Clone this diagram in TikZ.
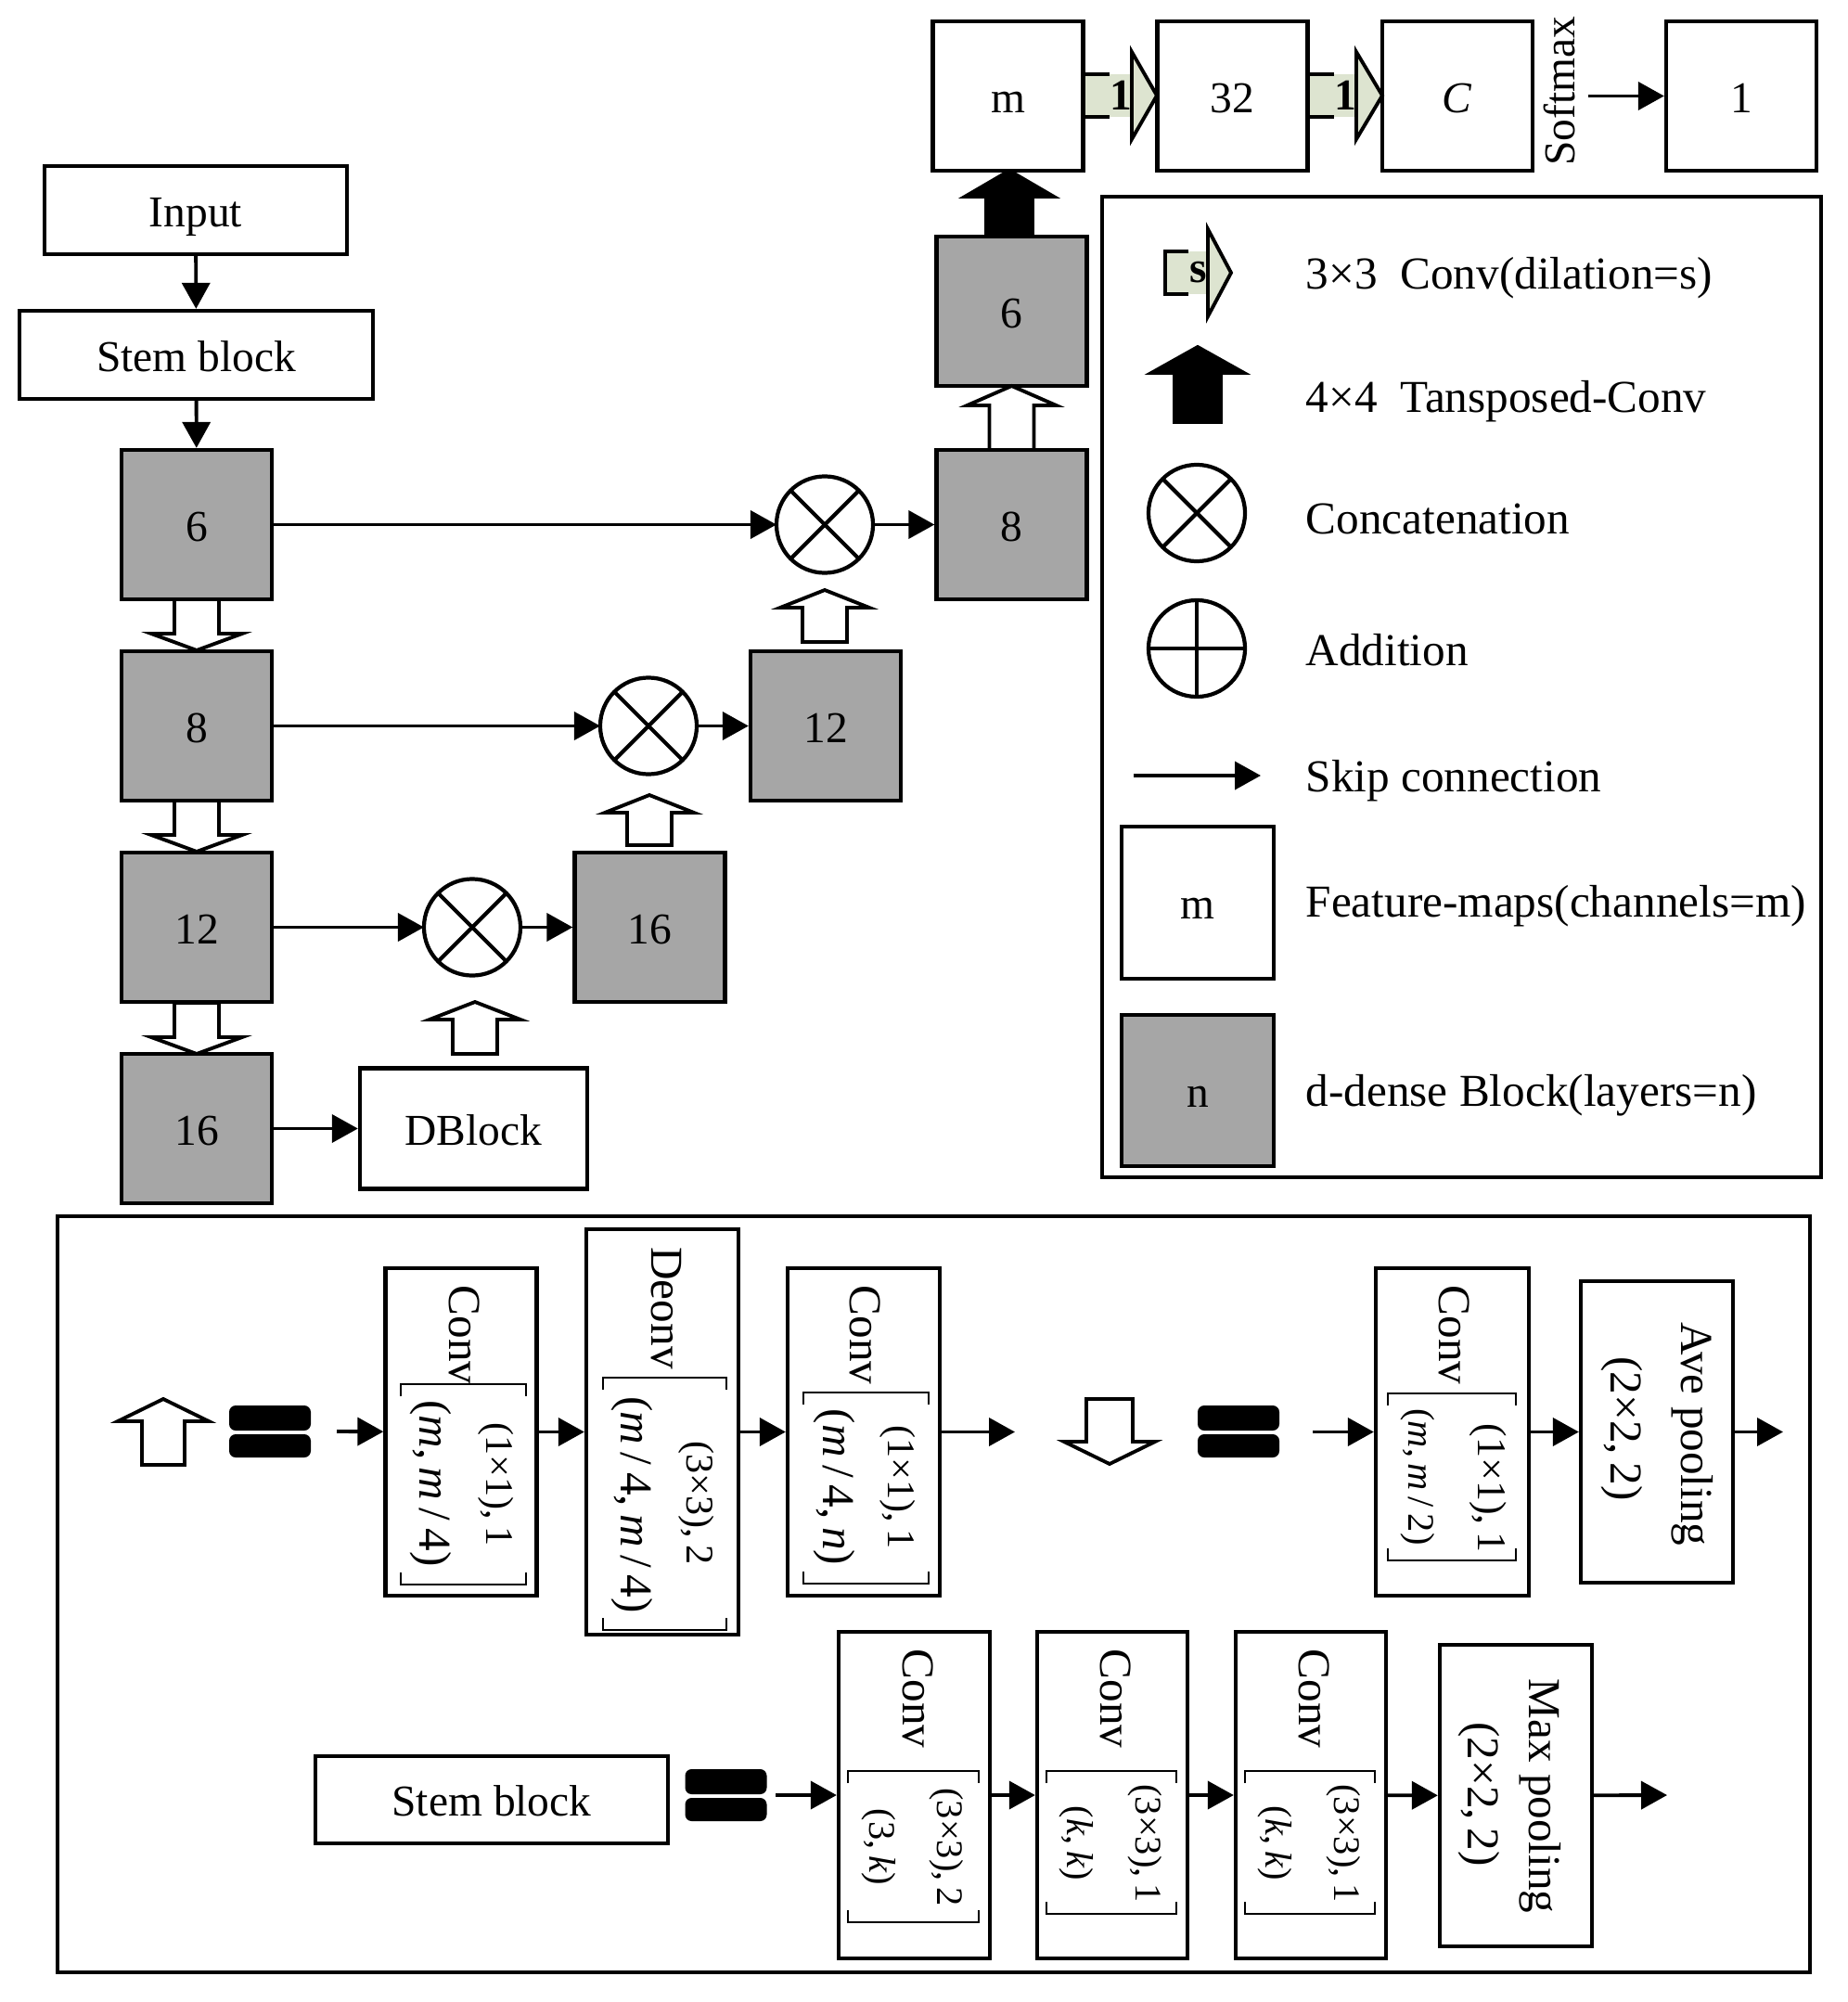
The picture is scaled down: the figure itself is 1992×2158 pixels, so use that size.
\documentclass[tikz,border=0pt]{standalone}
\usepackage{fontspec}
\setmainfont{Liberation Serif}
\usetikzlibrary{arrows.meta}
\definecolor{blk}{RGB}{166,166,166}
\definecolor{dil}{RGB}{221,228,208}
\newcommand\fMain{\fontsize{13.5pt}{16pt}\selectfont}
\newcommand\fLeg{\fontsize{14pt}{17pt}\selectfont}
\newcommand\fRowA{\fontsize{12pt}{14pt}\selectfont}
\newcommand\fRowB{\fontsize{14pt}{17pt}\selectfont}
\newcommand\fRowC{\fontsize{12.5pt}{15pt}\selectfont}
\newcommand\fRowS{\fontsize{11.5pt}{13pt}\selectfont}
% block arrow: cx, tip, base, end, headhalf, shafthalf, style
\newcommand\blockarr[7]{\draw[#7] (#1-#6,#4) -- (#1-#6,#3) -- (#1-#5,#3) -- (#1,#2) -- (#1+#5,#3) -- (#1+#6,#3) -- (#1+#6,#4) -- cycle;}
% dilated conv arrow: x1, x2, xhead, xtip, cy, label, name
\newcommand\dilarr[7]{%
  \fill[dil] (#1,#5-23) rectangle (#3,#5+23);
  \filldraw[fill=dil, line width=1.1pt, line join=miter] (#3,#5-47) -- (#4,#5) -- (#3,#5+47) -- cycle;
  \draw[line width=1.4pt] (#2,#5-23) -- (#1,#5-23) -- (#1,#5+23) -- (#2,#5+23);
  \node[font=\fMain\bfseries, inner sep=0pt] (#7) at ({(#2+#3)/2},#5) {#6};}
% bracket: xl, xr, ytop, ybottom
\newcommand\BrkV[4]{\draw[brk] (#1,#3+13) -- (#1,#3) -- (#2,#3) -- (#2,#3+13);
  \draw[brk] (#1,#4-13) -- (#1,#4) -- (#2,#4) -- (#2,#4-13);}
% equals sign: cx, cy
\newcommand\eqsign[2]{\fill[rounded corners=2pt] (#1-44,#2-28) rectangle (#1+44,#2-1);
  \fill[rounded corners=2pt] (#1-44,#2+3) rectangle (#1+44,#2+28);}
\tikzset{
  tbox/.style={draw, line width=1.2pt, fill=white, inner sep=0pt, font=\fMain, text height=10pt, text depth=0pt},
  fmbox/.style={tbox, minimum width=1.62cm, minimum height=1.61cm},
  dbox/.style={fmbox, fill=blk},
  arr/.style={line width=1.1pt, -{Triangle[length=0.28cm, width=0.3cm]}},
  hollow/.style={draw, fill=white, line width=1.1pt, line join=miter},
  blackarr/.style={draw, fill=black, line width=1.1pt, line join=miter},
  cat/.style={circle, draw, line width=1.2pt, minimum size=1.04cm, inner sep=0pt, outer sep=0pt},
  rt/.style={rotate=-90, inner sep=0pt},
  brk/.style={line width=0.7pt},
  frame/.style={line width=1.3pt},
  leg/.style={anchor=base west, inner sep=0pt, font=\fLeg},
  convbox/.style={draw, line width=1.2pt, fill=white, inner sep=0pt, minimum width=1.63cm, minimum height=3.53cm},
  poolbox/.style={convbox, minimum width=1.64cm, minimum height=3.25cm}
}
\begin{document}
\begin{tikzpicture}[x=0.01cm, y=-0.01cm]
\useasboundingbox (0,0) rectangle (1992,2158);

% ---------- left encoder ----------
\node[tbox, minimum width=3.26cm, minimum height=0.95cm] (inp) at (211,226.5) {Input};
\node[tbox, minimum width=3.81cm, minimum height=0.95cm] (stem) at (211.5,382.5) {Stem block};
\node[dbox] (L6) at (212,565.5) {6};
\node[dbox] (L8) at (212,782.5) {8};
\node[dbox] (L12) at (212,999.5) {12};
\node[dbox] (L16) at (212,1216.5) {16};
\node[tbox, minimum width=2.45cm, minimum height=1.30cm] (dblk) at (510.5,1216.5) {DBlock};

\draw[arr] (inp) -- (stem);
\draw[arr] (stem) -- (L6);
\blockarr{212}{701}{683}{646}{49}{24}{hollow}
\blockarr{212}{918}{900}{863}{49}{24}{hollow}
\blockarr{212}{1136}{1118}{1081}{49}{24}{hollow}
\draw[arr] (L16) -- (dblk);

% ---------- decoder ----------
\node[cat] (C1) at (509,999.5) {};
\node[cat] (C2) at (699,782.5) {};
\node[cat] (C3) at (889,565.5) {};
\foreach \c in {C1,C2,C3}{
  \draw[line width=1.2pt] (\c.45) -- (\c.225);
  \draw[line width=1.2pt] (\c.135) -- (\c.315);
}
\node[dbox] (R16) at (700.5,999.5) {16};
\node[dbox] (R12) at (890,782.5) {12};
\node[dbox] (R8) at (1090.5,565.5) {8};
\node[dbox] (R6) at (1090.5,335.5) {6};

\draw[arr] (L12) -- (C1);
\draw[arr] (C1) -- (R16);
\draw[arr] (L8) -- (C2);
\draw[arr] (C2) -- (R12);
\draw[arr] (L6) -- (C3);
\draw[arr] (C3) -- (R8);

\blockarr{512}{1080}{1099}{1136}{49}{24}{hollow}
\blockarr{700}{857}{876}{911}{48}{24}{hollow}
\blockarr{889}{636}{655}{692}{48}{24}{hollow}
\blockarr{1090.5}{416}{437}{485}{48}{24}{hollow}
\blockarr{1088}{184}{212}{255}{48}{25}{blackarr}

% ---------- top row ----------
\node[fmbox] (m) at (1086.5,103.5) {m};
\node[fmbox] (n32) at (1328.5,103.5) {32};
\node[fmbox] (C) at (1571,103.5) {\textit{C}};
\node[fmbox] (one) at (1877,103.5) {1};
\dilarr{1168}{1196}{1220}{1247}{103}{1}{d1}
\dilarr{1410}{1438}{1462}{1490}{103}{1}{d2}
\node[rotate=90, inner sep=0pt, font=\fMain] (sm) at (1681,98) {Softmax};
\coordinate (smx) at (1712,103.5);
\draw[arr] (smx) -- (one);

% ---------- legend ----------
\draw[frame] (1188,212) rectangle (1963,1269);
\dilarr{1256}{1281}{1302}{1327}{294}{s}{ld}
\node[leg] (t1) at (1407,312) {3×3\ \ Conv(dilation=s)};
\blockarr{1291}{374}{402}{455}{50}{25}{blackarr}
\node[leg] (t2) at (1407,445) {4×4\ \ Tansposed-Conv};
\node[cat] (LC) at (1290,553) {};
\draw[line width=1.2pt] (LC.45) -- (LC.225);
\draw[line width=1.2pt] (LC.135) -- (LC.315);
\node[leg] (t3) at (1407,575) {Concatenation};
\node[cat] (LA) at (1290,699) {};
\draw[line width=1.2pt] (LA.north) -- (LA.south);
\draw[line width=1.2pt] (LA.east) -- (LA.west);
\node[leg] (t4) at (1407,717) {Addition};
\coordinate (s1) at (1222,836);
\coordinate (s2) at (1359,836);
\draw[arr] (s1) -- (s2);
\node[leg] (t5) at (1407,853) {Skip connection};
\node[tbox, minimum width=1.64cm, minimum height=1.64cm] (lm) at (1291,973) {m};
\node[leg] (t6) at (1407,988) {Feature-maps(channels=m)};
\node[tbox, fill=blk, minimum width=1.64cm, minimum height=1.63cm] (ln) at (1291,1175.5) {n};
\node[leg] (t7) at (1407,1192) {d-dense Block(layers=n)};

% ---------- bottom panel ----------
\draw[frame] (62,1311) rectangle (1951,2126);

% row 1: up block
\blockarr{176}{1508}{1532}{1579}{49}{23}{hollow}
\eqsign{291}{1543}
\node[inner sep=0pt, minimum width=0.88cm, minimum height=0.56cm] (eqA) at (291,1543) {};
\node[convbox] (cv1) at (497,1543.5) {};
\node[convbox, minimum width=1.64cm, minimum height=4.37cm] (dcv) at (714,1543.5) {};
\node[convbox, minimum width=1.64cm] (cv2) at (931,1543.5) {};
\coordinate (e1) at (1094,1543.5);
\coordinate (a1) at (363,1543);
\draw[arr] (a1) -- (cv1);
\draw[arr] (cv1) -- (dcv);
\draw[arr] (dcv) -- (cv2);
\draw[arr] (cv2) -- (e1);

\node[rt, font=\fLeg] (cv1t) at (501,1439) {Conv};
\BrkV{432}{567}{1492}{1708}
\node[rt, font=\fRowA] (cv1a) at (535,1600) {(1×1),\,1};
\node[rt, font=\fRowB] (cv1b) at (464,1599) {(\textit{m},\,\textit{m}\,/\,4)};

\node[rt, font=\fLeg] (dcvt) at (718,1410) {Deonv};
\BrkV{650}{783}{1485}{1757}
\node[rt, font=\fRowA] (dcva) at (751,1620) {(3×3),\,2};
\node[rt, font=\fRowB] (dcvb) at (681,1622) {(\textit{m}\,/\,4,\,\textit{m}\,/\,4)};

\node[rt, font=\fLeg] (cv2t) at (933,1439) {Conv};
\BrkV{866}{1001}{1501}{1707}
\node[rt, font=\fRowA] (cv2a) at (968,1603) {(1×1),\,1};
\node[rt, font=\fRowB] (cv2b) at (899,1603) {(\textit{m}\,/\,4,\,\textit{n})};

% row 1: down block
\blockarr{1196}{1578}{1554}{1508}{49}{25}{hollow}
\eqsign{1335}{1543}
\node[inner sep=0pt, minimum width=0.88cm, minimum height=0.56cm] (eqB) at (1335,1543) {};
\node[convbox, minimum width=1.65cm] (cv3) at (1565.5,1543.5) {};
\node[poolbox] (ave) at (1786,1543.5) {};
\coordinate (a2) at (1415,1543.5);
\coordinate (e2) at (1922,1543.5);
\draw[arr] (a2) -- (cv3);
\draw[arr] (cv3) -- (ave);
\draw[arr] (ave) -- (e2);

\node[rt, font=\fLeg] (cv3t) at (1568,1439) {Conv};
\BrkV{1496}{1634}{1502}{1682}
\node[rt, font=\fRowC] (cv3a) at (1604,1604) {(1×1),\,1};
\node[rt, font=\fRowS] (cv3b) at (1528,1592) {(\textit{m},\,\textit{m}\,/\,2)};
\node[rt, font=\fLeg] (avet) at (1824,1546) {Ave pooling};
\node[rt, font=\fLeg] (avea) at (1748,1540) {(2×2,\,2)};

% row 2: stem block
\node[tbox, minimum width=3.80cm, minimum height=0.94cm] (stem2) at (530,1940) {Stem block};
\eqsign{782.5}{1935}
\node[inner sep=0pt, minimum width=0.88cm, minimum height=0.56cm] (eqC) at (782.5,1935) {};
\node[convbox, minimum height=3.52cm] (ca) at (985.5,1935) {};
\node[convbox, minimum width=1.62cm, minimum height=3.52cm] (cb) at (1199,1935) {};
\node[convbox, minimum width=1.62cm, minimum height=3.52cm] (cc) at (1413,1935) {};
\node[poolbox] (mx) at (1634,1935.5) {};
\coordinate (a3) at (836,1935);
\coordinate (e3) at (1797,1935);
\draw[arr] (a3) -- (ca);
\draw[arr] (ca) -- (cb);
\draw[arr] (cb) -- (cc);
\draw[arr] (cc) -- (mx);
\draw[arr] (mx) -- (e3);

\node[rt, font=\fLeg] (cat1) at (990,1831) {Conv};
\BrkV{914}{1055}{1909}{2072}
\node[rt, font=\fRowS] (caa) at (1020,1991) {(3×3),\,2};
\node[rt, font=\fRowS] (cab) at (947,1991) {(3,\,\textit{k})};

\node[rt, font=\fLeg] (cbt) at (1203,1831) {Conv};
\BrkV{1128}{1268}{1909}{2063}
\node[rt, font=\fRowS] (cba) at (1234,1987) {(3×3),\,1};
\node[rt, font=\fRowS] (cbb) at (1160,1987) {(\textit{k},\,\textit{k})};

\node[rt, font=\fLeg] (cct) at (1417,1831) {Conv};
\BrkV{1342}{1482}{1909}{2063}
\node[rt, font=\fRowS] (cca) at (1448,1987) {(3×3),\,1};
\node[rt, font=\fRowS] (ccb) at (1374,1987) {(\textit{k},\,\textit{k})};

\node[rt, font=\fLeg] (mxt) at (1660,1936) {Max pooling};
\node[rt, font=\fLeg] (mxa) at (1594,1934) {(2×2,\,2)};
\end{tikzpicture}
\end{document}
